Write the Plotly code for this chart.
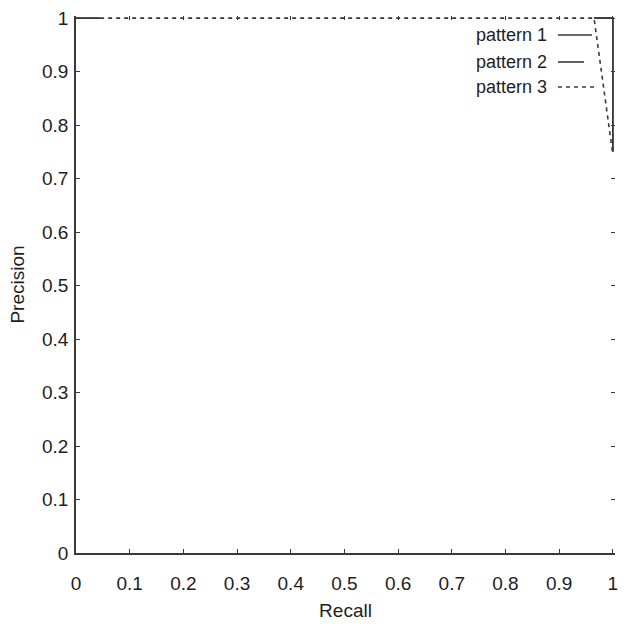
import plotly.graph_objects as go

# Data
p1_recall = [0.0, 0.045, None, 0.965, 1.0, 1.0]
p1_precision = [1.0, 1.0, None, 1.0, 1.0, 0.75]
p2_recall = [0.0, 0.045, None, 0.965, 1.0, 1.0]
p2_precision = [1.0, 1.0, None, 1.0, 1.0, 0.75]
p3_recall = [0.045, 0.965, 1.0]
p3_precision = [1.0, 1.0, 0.745]
tick_vals = [0, 0.1, 0.2, 0.3, 0.4, 0.5, 0.6, 0.7, 0.8, 0.9, 1]
tick_text = ["0", "0.1", "0.2", "0.3", "0.4", "0.5", "0.6", "0.7", "0.8", "0.9", "1"]
legend_names = ["pattern 1", "pattern 2", "pattern 3"]

LINE = "#3a3a3a"
TXT = "#1e1e1e"
FONT = "Liberation Sans, Arial, sans-serif"
XR = [0, 1.004]
YR = [0, 1.004]

fig = go.Figure()
fig.add_trace(go.Scatter(x=p1_recall, y=p1_precision, mode="lines", name=legend_names[0],
                         line=dict(color=LINE, width=1.6), connectgaps=False, hoverinfo="skip"))
fig.add_trace(go.Scatter(x=p2_recall, y=p2_precision, mode="lines", name=legend_names[1],
                         line=dict(color=LINE, width=1.6), connectgaps=False, hoverinfo="skip"))
fig.add_trace(go.Scatter(x=p3_recall, y=p3_precision, mode="lines", name=legend_names[2],
                         line=dict(color=LINE, width=1.6, dash="4px,4px"), hoverinfo="skip",
                         xaxis="x2", yaxis="y2"))

L, R, T, B = 76, 15, 16, 75
W, H = 630, 628
pw, ph = W - L - R, H - T - B

def px_x(px):
    return (px - L) / pw

def px_y(py):
    return (H - B - py) / ph

legend_y = [35, 62, 87]
legend_x1 = [592, 584, 597]
dashes = ["solid", "solid", "dash"]
shapes = []
annotations = []
for name, ly, x1, d in zip(legend_names, legend_y, legend_x1, dashes):
    annotations.append(dict(text=name, xref="paper", yref="paper", x=px_x(549), y=px_y(ly),
                            xanchor="right", yanchor="middle", showarrow=False,
                            font=dict(size=18, color=TXT, family=FONT)))
    shapes.append(dict(type="line", xref="paper", yref="paper", x0=px_x(558), x1=px_x(x1),
                       y0=px_y(ly), y1=px_y(ly),
                       line=dict(color=LINE, width=1.6, dash="4px,4px" if d == "dash" else "solid")))

axis_common = dict(tickvals=tick_vals, ticktext=tick_text, ticks="inside", ticklen=4,
                   tickcolor=LINE, tickwidth=1.2, showgrid=False, zeroline=False,
                   automargin=False, tickfont=dict(size=19, color=TXT, family=FONT))

fig.update_layout(
    width=W, height=H,
    margin=dict(l=L, r=R, t=T, b=B, autoexpand=False),
    paper_bgcolor="white", plot_bgcolor="white",
    showlegend=False,
    xaxis=dict(range=XR, showline=True, linecolor=LINE, linewidth=1.6, ticklabelstandoff=12,
               title=dict(text="Recall", font=dict(size=19, color=TXT, family=FONT), standoff=11),
               **axis_common),
    yaxis=dict(range=YR, showline=True, linecolor=LINE, linewidth=1.6, ticklabelstandoff=2,
               title=dict(text="Precision", font=dict(size=19, color=TXT, family=FONT), standoff=12),
               **axis_common),
    xaxis2=dict(range=XR, overlaying="x", side="top", anchor="y2", showticklabels=False,
                showline=False, tickvals=tick_vals, ticks="inside", ticklen=4, tickcolor=LINE,
                tickwidth=1.2, showgrid=False, zeroline=False, automargin=False),
    yaxis2=dict(range=YR, overlaying="y", side="right", anchor="x2", showticklabels=False,
                showline=False, tickvals=tick_vals, ticks="inside", ticklen=4, tickcolor=LINE,
                tickwidth=1.2, showgrid=False, zeroline=False, automargin=False),
    shapes=shapes,
    annotations=annotations,
)

fig.write_html("out.html")
